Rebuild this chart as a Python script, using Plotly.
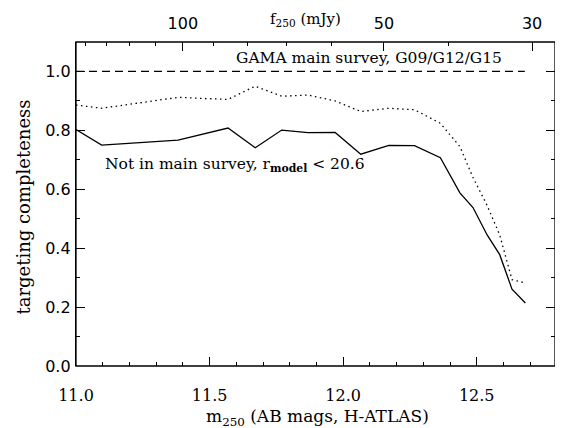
import numpy as np
import plotly.graph_objects as go

# --- data ---
m250 = [11.0, 11.096, 11.382, 11.569, 11.671, 11.770, 11.868, 11.970, 12.066,
        12.171, 12.267, 12.364, 12.437, 12.486, 12.539, 12.586, 12.632, 12.682]
compl_notmain = [0.803, 0.750, 0.767, 0.808, 0.741, 0.801, 0.792, 0.793, 0.719,
                 0.749, 0.748, 0.707, 0.588, 0.538, 0.445, 0.378, 0.261, 0.214]
compl_all = [0.886, 0.875, 0.912, 0.905, 0.950, 0.916, 0.920, 0.900, 0.864,
             0.875, 0.870, 0.824, 0.745, 0.640, 0.545, 0.445, 0.293, 0.282]
gama_x = [11.0, 12.68]
gama_y = [1.0, 1.0]

f_major = [100, 50, 30]
f_minor = [140, 130, 120, 110, 90, 80, 70, 60, 40]
x_range = [11.0, 12.793]
y_range = [0.0, 1.1]


def flux_to_mag(f_mjy):
    return [8.9 - 2.5 * np.log10(f / 1000.0) for f in f_mjy]


serif = "DejaVu Serif"
sans = "DejaVu Sans"

fig = go.Figure()
fig.add_trace(go.Scatter(x=gama_x, y=gama_y, mode="lines",
                         line=dict(color="black", width=1.2, dash="8px,5px"),
                         showlegend=False))
fig.add_trace(go.Scatter(x=m250, y=compl_all, mode="lines",
                         line=dict(color="black", width=1.3, dash="1.5px,3.5px"),
                         showlegend=False))
fig.add_trace(go.Scatter(x=m250, y=compl_notmain, mode="lines",
                         line=dict(color="black", width=1.3),
                         showlegend=False))
# invisible trace to activate top axis
fig.add_trace(go.Scatter(x=[x_range[0]], y=[0], xaxis="x2", mode="markers",
                         marker=dict(opacity=0), showlegend=False, hoverinfo="skip"))

fig.update_layout(
    width=563, height=428,
    margin=dict(l=68, r=16, t=34, b=70, autoexpand=False),
    paper_bgcolor="white", plot_bgcolor="white",
    xaxis=dict(range=x_range, tickvals=[11.0, 11.5, 12.0, 12.5],
               ticktext=["11.0", "11.5", "12.0", "12.5"],
               ticks="inside", ticklen=9, tickwidth=1, tickcolor="black",
               minor=dict(ticks="inside", ticklen=4, dtick=0.1, tick0=11.0, tickcolor="black"),
               showline=False, showgrid=False, zeroline=False, automargin=False,
               ticklabelstandoff=18,
               tickfont=dict(family=serif, size=16, color="black")),
    xaxis2=dict(range=x_range, overlaying="x", side="top", anchor="y",
                tickvals=flux_to_mag(f_major), ticktext=[str(v) for v in f_major],
                ticks="inside", ticklen=9, tickwidth=1, tickcolor="black",
                minor=dict(ticks="inside", ticklen=4, tickvals=flux_to_mag(f_minor), tickcolor="black"),
                showline=False, showgrid=False, zeroline=False, automargin=False,
                ticklabelstandoff=9,
                tickfont=dict(family=sans, size=16, color="black")),
    yaxis=dict(range=y_range, tickvals=[0.0, 0.2, 0.4, 0.6, 0.8, 1.0],
               ticktext=["0.0", "0.2", "0.4", "0.6", "0.8", "1.0"],
               ticks="inside", ticklen=9, tickwidth=1, tickcolor="black",
               minor=dict(ticks="inside", ticklen=4, dtick=0.1, tick0=0.0, tickcolor="black"),
               showline=True, linecolor="black", linewidth=1.3, mirror="ticks",
               showgrid=False, zeroline=False, automargin=False,
               ticklabelstandoff=1,
               tickfont=dict(family=sans, size=16, color="black")),
    shapes=[dict(type="rect", xref="paper", yref="paper", x0=0, x1=1, y0=0, y1=1,
                 line=dict(color="black", width=1.3), fillcolor="rgba(0,0,0,0)")],
    annotations=[
        dict(x=0.48, y=1.068, xref="paper", yref="paper", xanchor="center", yanchor="middle",
             text="f<sub>250</sub> (mJy)", showarrow=False,
             font=dict(family=serif, size=15, color="black")),
        dict(x=0.504, y=-0.16, xref="paper", yref="paper", xanchor="center", yanchor="middle",
             text="m<sub>250</sub> (AB mags, H-ATLAS)", showarrow=False,
             font=dict(family=serif, size=17, color="black")),
        dict(x=-0.11, y=0.49, xref="paper", yref="paper", xanchor="center", yanchor="middle",
             text="targeting completeness", textangle=-90, showarrow=False,
             font=dict(family=serif, size=18, color="black")),
        dict(x=12.095, y=1.045, xref="x", yref="y", xanchor="center", yanchor="middle",
             text="GAMA main survey, G09/G12/G15", showarrow=False,
             font=dict(family=serif, size=15.5, color="black")),
        dict(x=11.1, y=0.683, xref="x", yref="y", xanchor="left", yanchor="middle",
             text="Not in main survey, r<sub><b>model</b></sub> &lt; 20.6", showarrow=False,
             font=dict(family=serif, size=15.5, color="black")),
    ],
)

fig.write_html("out.html")
